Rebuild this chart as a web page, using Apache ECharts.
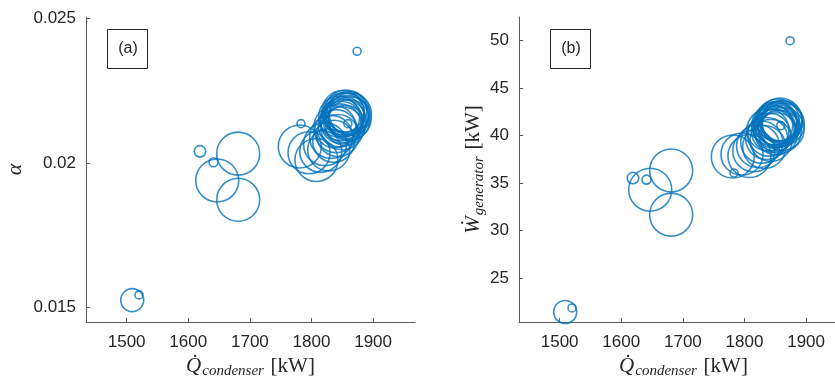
<!DOCTYPE html>
<html>
<head>
<meta charset="utf-8">
<script src="https://cdn.jsdelivr.net/npm/echarts@6/dist/echarts.min.js"></script>
<style>
  html, body { margin: 0; padding: 0; background: #fff; }
  #main { width: 835px; height: 380px; }
</style>
</head>
<body>
<div id="main"></div>
<script>
// 冷凝器热量 Q_condenser [kW]
var qCond = [1874, 1783, 1619, 1641, 1681, 1647, 1681, 1509, 1520,
    1781, 1796, 1808, 1815, 1822, 1828, 1832, 1836, 1840, 1843, 1846,
    1848, 1850, 1852, 1854, 1856, 1858, 1860, 1862, 1863, 1859,
    1845, 1849, 1853, 1857, 1861, 1851, 1855, 1838];
// 图(a) alpha
var alpha = [0.02387, 0.02136, 0.02040, 0.02002, 0.02032, 0.01939, 0.01872, 0.01524, 0.01542,
    0.02057, 0.02035, 0.02010, 0.02040, 0.02065, 0.02045, 0.02090, 0.02075, 0.02110, 0.02095, 0.02130,
    0.02150, 0.02120, 0.02170, 0.02145, 0.02180, 0.02160, 0.02175, 0.02155, 0.02170, 0.02136,
    0.02160, 0.02140, 0.02160, 0.02168, 0.02148, 0.02178, 0.02130, 0.02125];
// 图(b) W_generator [kW]
var wGen = [50.0, 36.06, 35.53, 35.36, 36.33, 34.30, 31.67, 21.42, 21.84,
    37.80, 38.05, 37.85, 38.40, 38.90, 39.30, 38.80, 39.70, 40.10, 39.50, 40.50,
    40.90, 41.30, 40.20, 41.60, 41.00, 41.70, 41.40, 40.70, 41.20, 41.05,
    41.10, 40.60, 41.50, 40.40, 41.55, 41.20, 40.90, 40.60];
// 气泡大小对应的第三个变量
var bubble = [0.8, 0.8, 1.15, 0.9, 4.3, 4.3, 4.3, 2.3, 0.8,
    4.3, 4.2, 4.3, 4.2, 4.3, 4.2, 4.3, 4.2, 4.3, 4.2, 4.3,
    4.2, 4.3, 4.2, 4.3, 4.2, 4.3, 4.2, 4.3, 4.2, 0.8,
    4.1, 4.2, 4.0, 4.3, 4.1, 4.2, 4.0, 4.2];

var xTicks = [1500, 1600, 1700, 1800, 1900];
var aTicks = [0.015, 0.02, 0.025];
var bTicks = [25, 30, 35, 40, 45, 50];

var blue = '#0072BD';
var axisCol = '#5a5a5a';
var txtCol = '#262626';

function pairs(xs, ys, ss) {
    var out = [];
    for (var i = 0; i < xs.length; i++) {
        out.push([xs[i], ys[i], ss[i]]);
    }
    return out;
}

function plain(v) {
    return String(v);
}

function xAxisOpt(idx) {
    return {
        type: 'value', gridIndex: idx, min: 1434, max: 1968,
        axisLine: { lineStyle: { color: axisCol, width: 1 } },
        axisTick: { inside: true, length: 4, customValues: xTicks, lineStyle: { color: axisCol } },
        axisLabel: { customValues: xTicks, formatter: plain, margin: 12, color: txtCol, fontSize: 17, fontFamily: 'Liberation Sans' },
        splitLine: { show: false },
        name: '{q|Q\u0307}{sub|condenser}  {u|[kW]}',
        nameLocation: 'middle', nameGap: 32,
        nameTextStyle: {
            color: txtCol,
            rich: {
                q: { fontFamily: 'Liberation Serif', fontStyle: 'italic', fontSize: 21, color: txtCol },
                sub: { fontFamily: 'Liberation Serif', fontStyle: 'italic', fontSize: 15, color: txtCol, padding: [10, 0, 0, 1] },
                u: { fontFamily: 'Liberation Serif', fontSize: 21, color: txtCol }
            }
        }
    };
}

function yAxisOpt(idx, lo, hi, ticks, name, gap, rich) {
    return {
        type: 'value', gridIndex: idx, min: lo, max: hi,
        axisLine: { show: true, lineStyle: { color: axisCol, width: 1 } },
        axisTick: { show: true, inside: true, length: 4, customValues: ticks, lineStyle: { color: axisCol } },
        axisLabel: { customValues: ticks, formatter: plain, margin: 10, color: txtCol, fontSize: 17, fontFamily: 'Liberation Sans' },
        splitLine: { show: false },
        name: name, nameLocation: 'middle', nameGap: gap, nameRotate: 90,
        nameTextStyle: { color: txtCol, rich: rich }
    };
}

function boxLabel(x, txt) {
    return {
        type: 'group', left: x, top: 27,
        children: [
            { type: 'rect', shape: { x: 0.5, y: 0.5, width: 40, height: 39 },
              style: { fill: null, stroke: txtCol, lineWidth: 1 } },
            { type: 'text', x: 21, y: 20,
              style: { text: txt, font: '16px "Liberation Sans"', fill: txtCol, align: 'center', verticalAlign: 'middle' } }
        ]
    };
}

var scatterStyle = { color: 'rgba(0,0,0,0)', borderColor: blue, borderWidth: 1.6 };

var myChart = echarts.init(document.getElementById('main'), null, { renderer: 'canvas' });
var option = {
    animation: false,
    grid: [
        { left: 86, top: 17, width: 329, height: 305, outerBoundsMode: 'none' },
        { left: 519, top: 17, width: 329, height: 305, outerBoundsMode: 'none' }
    ],
    xAxis: [xAxisOpt(0), xAxisOpt(1)],
    yAxis: [
        yAxisOpt(0, 0.01448, 0.02506, aTicks, '{a|\u03b1}', 60, {
            a: { fontFamily: 'Liberation Serif', fontStyle: 'italic', fontSize: 22, color: txtCol }
        }),
        yAxisOpt(1, 20.36, 52.5, bTicks, '{w|W\u0307}{sub|generator}  {u|[kW]}', 31, {
            w: { fontFamily: 'Liberation Serif', fontStyle: 'italic', fontSize: 21, color: txtCol },
            sub: { fontFamily: 'Liberation Serif', fontStyle: 'italic', fontSize: 15, color: txtCol, padding: [10, 0, 0, 1] },
            u: { fontFamily: 'Liberation Serif', fontSize: 21, color: txtCol }
        })
    ],
    graphic: [boxLabel(105, '(a)'), boxLabel(548, '(b)')],
    series: [
        {
            type: 'scatter', xAxisIndex: 0, yAxisIndex: 0, silent: true,
            symbol: 'circle',
            symbolSize: function (v) { return v[2] * 10; },
            itemStyle: scatterStyle,
            data: pairs(qCond, alpha, bubble)
        },
        {
            type: 'scatter', xAxisIndex: 1, yAxisIndex: 1, silent: true,
            symbol: 'circle',
            symbolSize: function (v) { return v[2] * 10; },
            itemStyle: scatterStyle,
            data: pairs(qCond, wGen, bubble)
        }
    ]
};
myChart.setOption(option, true);
</script>
</body>
</html>
